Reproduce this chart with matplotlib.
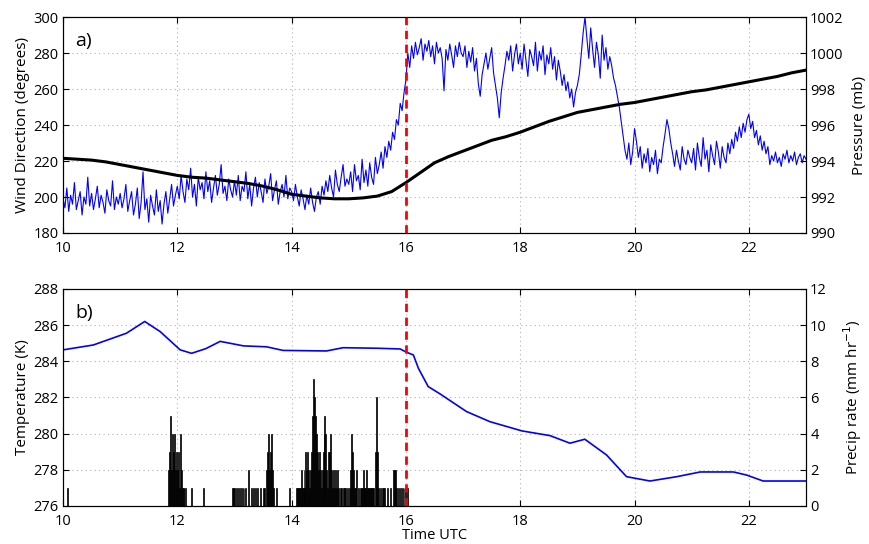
import numpy as np
import matplotlib
matplotlib.use("Agg")
import matplotlib.pyplot as plt

plt.rcParams['font.family'] = ['Open Sans', 'DejaVu Sans']

# ---------------- data ----------------
# wind direction (degrees), sampled every 2 minutes, grouped by hour (UTC)
wind_10 = [199, 194, 205, 192, 201, 196, 208, 193, 198, 203, 190, 200, 196, 211, 195,
           202, 193, 199, 206, 194, 201, 197, 191, 204, 198, 195, 209, 193, 200, 196]
wind_11 = [202, 194, 199, 207, 192, 198, 203, 190, 196, 205, 188, 197, 214, 193, 199,
           186, 201, 195, 190, 204, 192, 198, 185, 196, 203, 191, 199, 207, 195, 201]
wind_12 = [206, 199, 212, 203, 197, 210, 204, 216, 200, 207, 195, 211, 204, 208, 199,
           214, 203, 209, 197, 205, 212, 201, 207, 218, 202, 206, 198, 210, 204, 200]
wind_13 = [209, 201, 212, 198, 206, 203, 214, 199, 207, 195, 205, 211, 200, 208, 203,
           197, 210, 202, 206, 213, 198, 204, 209, 196, 203, 207, 200, 212, 199, 205]
wind_14 = [203, 198, 207, 200, 195, 204, 199, 193, 201, 196, 205, 197, 192, 200, 203,
           196, 206, 201, 209, 203, 212, 205, 200, 215, 207, 203, 211, 218, 206, 210]
wind_15 = [207, 214, 203, 218, 209, 212, 204, 221, 208, 215, 206, 219, 211, 207, 222,
           213, 218, 225, 216, 228, 222, 231, 226, 236, 232, 243, 240, 252, 248, 258]
wind_16 = [265, 280, 272, 284, 277, 286, 279, 283, 288, 276, 285, 281, 287, 278, 284,
           274, 286, 280, 283, 277, 259, 282, 276, 285, 279, 272, 284, 278, 286, 280]
wind_17 = [278, 284, 272, 281, 275, 283, 270, 277, 263, 256, 268, 274, 280, 271, 277,
           283, 269, 262, 255, 244, 258, 266, 273, 281, 276, 284, 270, 279, 285, 274]
wind_18 = [280, 271, 285, 276, 267, 282, 278, 273, 286, 270, 281, 276, 284, 268, 279,
           274, 283, 271, 278, 265, 276, 270, 262, 268, 259, 264, 255, 260, 250, 258]
wind_19 = [262, 268, 279, 291, 300, 288, 277, 294, 282, 272, 286, 279, 266, 290, 276,
           283, 271, 278, 273, 266, 262, 256, 250, 242, 234, 226, 221, 230, 218, 225]
wind_20 = [238, 231, 222, 228, 216, 224, 219, 227, 214, 222, 218, 226, 213, 221, 219,
           228, 235, 243, 238, 230, 224, 217, 226, 220, 215, 228, 221, 218, 226, 222]
wind_21 = [219, 227, 215, 230, 222, 217, 233, 221, 226, 214, 229, 223, 218, 231, 225,
           216, 228, 222, 219, 230, 224, 232, 227, 236, 231, 239, 233, 241, 236, 243]
wind_22 = [246, 238, 242, 233, 237, 229, 234, 226, 231, 224, 228, 218, 223, 220, 225,
           219, 222, 217, 224, 221, 226, 219, 223, 220, 225, 218, 222, 224, 219, 223]
wind_23 = [221]
wind_dir = (wind_10 + wind_11 + wind_12 + wind_13 + wind_14 + wind_15 + wind_16
            + wind_17 + wind_18 + wind_19 + wind_20 + wind_21 + wind_22 + wind_23)
wind_time = 10 + np.arange(len(wind_dir)) / 30.0

# pressure (mb) every quarter hour
pres_time = 10 + 0.25 * np.arange(53)
pressure = [994.15, 994.1, 994.05, 993.95, 993.8, 993.65, 993.5, 993.35, 993.2, 993.1,
            993.05, 992.95, 992.85, 992.75, 992.6, 992.4, 992.15, 992.05, 991.95, 991.9,
            991.9, 991.95, 992.05, 992.3, 992.8, 993.35, 993.9, 994.25, 994.55, 994.85,
            995.15, 995.35, 995.6, 995.9, 996.2, 996.45, 996.7, 996.85, 997.0, 997.15,
            997.25, 997.4, 997.55, 997.7, 997.85, 997.95, 998.1, 998.25, 998.4, 998.55,
            998.7, 998.9, 999.05]

# temperature (K)
temp_time = [10.0, 10.53, 11.11, 11.43, 11.7, 12.05, 12.25, 12.5, 12.75, 13.16, 13.56, 13.85,
             14.61, 14.9, 15.5, 15.9, 16.01, 16.13, 16.22, 16.39, 16.6, 17.06, 17.47, 18.03,
             18.52, 18.87, 19.13, 19.51, 19.86, 20.27, 20.74, 21.15, 21.73, 21.96, 22.25, 23.0]
temperature = [284.63, 284.9, 285.55, 286.2, 285.64, 284.63, 284.44, 284.7, 285.1, 284.85, 284.8,
               284.6, 284.57, 284.75, 284.72, 284.68, 284.5, 284.35, 283.6, 282.6, 282.19, 281.22,
               280.66, 280.15, 279.89, 279.47, 279.69, 278.82, 277.62, 277.38, 277.62, 277.88,
               277.88, 277.71, 277.38, 277.38]

# precipitation rate (mm/hr), minute after 10 UTC -> value
precip_minute = [5,
    111, 112, 113, 114, 115, 116, 117, 118, 119, 120, 121, 122, 123, 124, 125, 126, 127, 129, 135, 147,
    178, 179, 180, 182, 184, 186, 188, 190, 192, 195, 198, 200, 202, 204, 207, 210, 212,
    214, 215, 216, 217, 218, 219, 220, 221, 224, 238,
    245, 246, 247, 248, 249, 250, 251, 252, 253, 254, 255, 256, 257, 258, 259, 260, 261, 262,
    263, 264, 265, 266, 267, 268, 269, 270, 271, 272, 273, 274, 275, 276, 277, 278, 279, 280,
    281, 282, 283, 284, 285, 286, 287, 288, 289, 291, 292, 294, 296, 297, 299, 301, 302, 303,
    304, 305, 306, 307, 308, 310, 312, 313, 314, 315, 316, 317, 318, 319, 320, 321, 322, 323,
    324, 325, 326, 328, 329, 330, 331, 333, 335, 336, 338, 341, 344, 347, 348, 349, 350, 352,
    354, 356, 358, 360, 362]
precip_rate = [1,
    2, 3, 5, 2, 4, 3, 4, 2, 3, 2, 3, 1, 4, 2, 1, 1, 1, 1, 1, 1,
    1, 1, 1, 1, 1, 1, 1, 1, 1, 2, 1, 1, 1, 1, 1, 1, 1,
    2, 3, 4, 2, 3, 4, 2, 1, 1, 1,
    1, 1, 1, 1, 1, 2, 1, 1, 2, 1, 3, 2, 3, 2, 1, 2, 3, 5,
    7, 6, 5, 4, 3, 2, 3, 2, 1, 2, 3, 4, 5, 4, 2, 1, 3, 3,
    4, 2, 1, 2, 1, 2, 1, 2, 1, 1, 1, 1, 1, 1, 1, 1, 2, 4,
    3, 2, 1, 1, 2, 1, 1, 1, 1, 2, 1, 1, 1, 2, 1, 1, 1, 1,
    1, 1, 1, 3, 6, 3, 1, 1, 1, 1, 1, 1, 1, 2, 2, 2, 1, 1,
    1, 1, 1, 1, 1]
precip_time = 10 + np.array(precip_minute) / 60.0

x_ticks = [10, 12, 14, 16, 18, 20, 22]
front_time = 16

# ---------------- figure ----------------
fig = plt.figure(figsize=(8.69, 5.44), dpi=100)
FS = 10.5
LFS = 11

def style(ax):
    ax.tick_params(axis='y', direction='in', labelsize=FS, length=4, right=False, pad=3)
    ax.tick_params(axis='x', direction='in', labelsize=FS, length=4, top=True, pad=6)
    for s in ax.spines.values():
        s.set_linewidth(0.8)

# ---- panel a ----
axa = fig.add_axes([0.0725, 0.5717, 0.855, 0.397])
axa.plot(wind_time, wind_dir, color='blue', lw=0.8)
axa.set_xlim(10, 23)
axa.set_ylim(180, 300)
axa.set_yticks(range(180, 301, 20))
axa.set_xticks(x_ticks)
axa.grid(True, linestyle=(0, (1, 3)), color='#b0b0b0', lw=0.8)
axa.set_ylabel('Wind Direction (degrees)', fontsize=LFS, labelpad=3)
style(axa)
axa.text(0.016, 0.93, 'a)', transform=axa.transAxes, fontsize=14, va='top')

axa2 = axa.twinx()
axa2.plot(pres_time, pressure, color='black', lw=2.2)
axa2.set_ylim(990, 1002)
axa2.set_yticks(range(990, 1003, 2))
axa2.set_ylabel('Pressure (mb)', fontsize=LFS, labelpad=6)
axa2.tick_params(direction='in', labelsize=FS, length=4, pad=3)
axa2.axvline(front_time, color='red', lw=2, linestyle=(0, (3, 2)))

# ---- panel b ----
axb = fig.add_axes([0.0725, 0.0699, 0.855, 0.399])
axb.plot(temp_time, temperature, color='blue', lw=1.2)
axb.set_xlim(10, 23)
axb.set_ylim(276, 288)
axb.set_yticks(range(276, 289, 2))
axb.set_xticks(x_ticks)
axb.grid(True, linestyle=(0, (1, 3)), color='#b0b0b0', lw=0.8)
axb.set_ylabel('Temperature (K)', fontsize=LFS, labelpad=3)
axb.set_xlabel('Time UTC', fontsize=LFS - 0.5, labelpad=-1)
style(axb)
axb.text(0.016, 0.93, 'b)', transform=axb.transAxes, fontsize=14, va='top')

axb2 = axb.twinx()
axb2.bar(precip_time, precip_rate, width=1 / 60.0, color='black', edgecolor='black',
         lw=0.5, align='center')
axb2.set_ylim(0, 12)
axb2.set_yticks(range(0, 13, 2))
axb2.set_ylabel(r'Precip rate (mm hr$^{-1}$)', fontsize=LFS, labelpad=10)
axb2.tick_params(direction='in', labelsize=FS, length=4, pad=3)
axb2.axvline(front_time, color='red', lw=2, linestyle=(0, (3, 2)))

fig.savefig('out.png', dpi=100)
